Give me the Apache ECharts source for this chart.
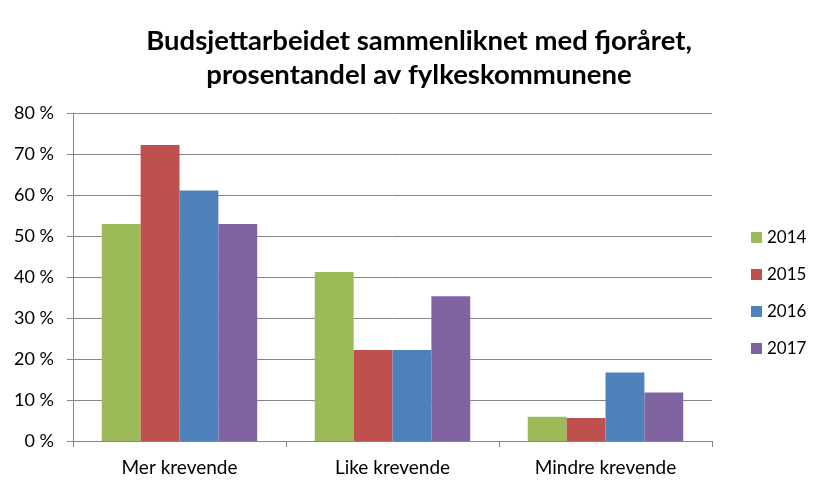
<!DOCTYPE html>
<html><head><meta charset="utf-8">
<script src="https://cdn.jsdelivr.net/npm/echarts@6/dist/echarts.min.js"></script>
<style>html,body{margin:0;padding:0;background:#fff}#c{width:827px;height:494px}</style>
</head><body><div id="c"></div>
<script>
const categories = ['Mer krevende', 'Like krevende', 'Mindre krevende'];
const seriesNames = ['2014', '2015', '2016', '2017'];
const v2014 = [52.9, 41.2, 5.9];
const v2015 = [72.2, 22.2, 5.6];
const v2016 = [61.1, 22.2, 16.7];
const v2017 = [52.9, 35.3, 11.8];
const colors = ['#9BBB59', '#C0504D', '#4F81BD', '#8064A2'];
const values = [v2014, v2015, v2016, v2017];
const font = 'Lato, "Open Sans", sans-serif';

const chart = echarts.init(document.getElementById('c'));
chart.setOption({
  animation: false,
  title: {
    text: 'Budsjettarbeidet sammenliknet med fjoråret,\nprosentandel av fylkeskommunene',
    left: 414, top: 19, textAlign: 'center',
    textStyle: { fontFamily: font, fontSize: 27.5, fontWeight: 'bold', color: '#000', lineHeight: 34 }
  },
  legend: {
    orient: 'vertical', left: 746, top: 224, itemGap: 20,
    itemWidth: 11, itemHeight: 11, icon: 'rect',
    textStyle: { fontFamily: font, fontSize: 17, color: '#000' },
    data: seriesNames
  },
  grid: { left: 73, right: 115, top: 113, bottom: 53 },
  xAxis: {
    type: 'category', data: categories,
    axisLine: { lineStyle: { color: '#868686' } },
    axisTick: { show: true, length: 6, lineStyle: { color: '#868686' } },
    axisLabel: { fontFamily: font, fontSize: 19, color: '#000', margin: 17 }
  },
  yAxis: {
    type: 'value', min: 0, max: 80, interval: 10,
    axisLine: { show: true, lineStyle: { color: '#868686' } },
    axisTick: { show: true, length: 6, lineStyle: { color: '#868686' } },
    splitLine: { lineStyle: { color: '#868686' } },
    axisLabel: { fontFamily: font, fontSize: 18, color: '#000', margin: 19, formatter: v => v + ' %' }
  },
  series: seriesNames.map((n, i) => ({
    name: n, type: 'bar', data: values[i],
    itemStyle: { color: colors[i] },
    barGap: '0%', barCategoryGap: '27%'
  }))
});
</script></body></html>
